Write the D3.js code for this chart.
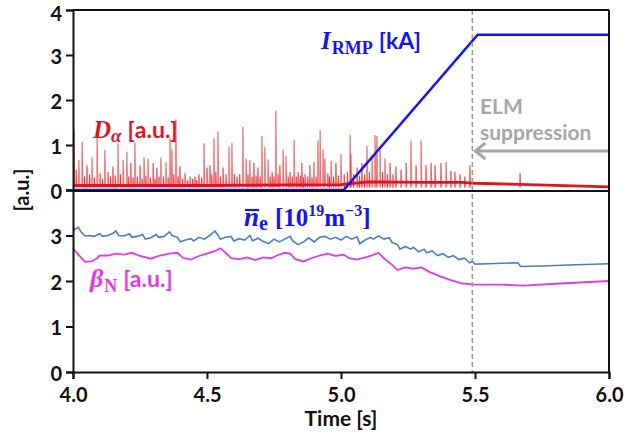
<!DOCTYPE html>
<html>
<head>
<meta charset="utf-8">
<script src="https://cdn.jsdelivr.net/npm/d3@7"></script>
<style>
  html, body { margin: 0; padding: 0; background: #fff; }
  svg { display: block; }
  .tick text { font-family: Lato, "Open Sans", sans-serif; font-weight: 700; font-size: 20px; fill: #111; }
  .serif { font-family: "Liberation Serif", "DejaVu Serif", serif; font-weight: 700; }
  .sans { font-family: Lato, "Open Sans", sans-serif; font-weight: 700; }
</style>
</head>
<body>
<svg id="chart" width="638" height="436"></svg>
<script>
// ---- data ----
// Dα spike times [s] and peak amplitudes [a.u.]
const daSpikeT = [4.004,4.012,4.022,4.034,4.043,4.052,4.062,4.071,4.080,4.090,4.101,4.110,4.119,4.131,4.140,4.149,4.158,4.168,4.177,4.187,4.201,4.208,4.216,4.224,4.231,4.240,4.250,4.258,4.265,4.272,4.280,4.289,4.299,4.306,4.313,4.321,4.328,4.338,4.347,4.355,4.362,4.369,4.376,4.384,4.392,4.399,4.409,4.418,4.428,4.437,4.446,4.455,4.462,4.470,4.480,4.489,4.500,4.511,4.518,4.526,4.533,4.541,4.550,4.560,4.571,4.582,4.593,4.602,4.612,4.622,4.634,4.646,4.653,4.660,4.668,4.675,4.683,4.690,4.698,4.705,4.716,4.728,4.736,4.743,4.750,4.757,4.765,4.772,4.784,4.795,4.803,4.810,4.818,4.825,4.833,4.840,4.848,4.854,4.860,4.866,4.876,4.884,4.892,4.899,4.907,4.914,4.922,4.933,4.940,4.951,4.957,4.963,4.972,4.981,4.990,5.000,5.012,5.024,5.034,5.037,5.047,5.060,5.069,5.078,5.088,5.097,5.106,5.116,5.127,5.134,5.146,5.155,5.164,5.173,5.183,5.194,5.205,5.224,5.243,5.261,5.280,5.299,5.317,5.336,5.351,5.373,5.392,5.410,5.425,5.444,5.462,5.481,5.668];
const daSpikeV = [1.33,0.45,0.67,1.07,0.30,0.55,0.35,0.73,0.28,1.15,0.37,0.25,0.89,0.40,0.30,0.52,0.32,1.04,0.35,0.67,0.85,0.30,0.60,0.28,1.05,0.30,0.55,0.25,0.73,0.32,0.70,0.28,0.60,0.25,0.50,0.30,0.72,0.30,0.62,0.28,1.15,0.90,0.35,1.57,0.30,0.53,0.25,0.37,0.22,0.30,0.25,0.30,0.22,0.35,0.28,1.04,0.50,0.55,0.35,1.15,0.40,1.30,0.30,0.50,0.35,0.96,1.05,0.35,0.30,0.35,1.40,0.70,0.35,0.66,0.30,0.60,0.32,0.50,0.30,1.20,0.95,0.68,0.30,0.40,0.30,1.76,0.35,0.55,0.90,0.75,0.30,0.40,0.30,1.12,0.30,0.40,0.32,0.60,0.28,0.35,0.30,0.55,0.28,0.63,0.30,1.10,1.33,0.90,0.70,0.37,0.30,0.65,0.30,0.60,0.32,0.80,0.35,0.40,1.22,0.80,0.35,0.50,0.32,0.60,0.35,0.98,0.40,0.78,1.22,1.20,0.88,0.40,0.70,0.35,0.60,0.35,0.52,0.45,0.60,1.10,0.55,1.10,0.55,0.60,0.55,0.60,0.62,0.42,0.40,0.35,0.30,0.55,0.38];
// Dα background level between ELMs
const daBaseT = [4.00,4.50,5.00,5.10,5.30,5.45,5.50,5.70,6.00];
const daBaseV = [0.10,0.10,0.12,0.18,0.17,0.17,0.15,0.12,0.07];

// RMP coil current [kA]
const irmpT = [4.00,5.01,5.09,5.51,6.00];
const irmpV = [0.00,0.00,0.55,3.45,3.45];

// line-averaged density [1e19 m^-3]
const neT = [4.00,4.01,4.02,4.03,4.045,4.06,4.08,4.10,4.11,4.13,4.15,4.16,4.17,4.19,4.21,4.22,4.24,4.26,4.27,4.29,4.31,4.32,4.34,4.36,4.37,4.39,4.40,4.42,4.44,4.45,4.47,4.49,4.51,4.53,4.55,4.57,4.59,4.60,4.62,4.64,4.66,4.67,4.69,4.71,4.73,4.75,4.77,4.79,4.81,4.82,4.84,4.86,4.88,4.90,4.92,4.94,4.96,4.98,5.00,5.02,5.04,5.06,5.07,5.09,5.11,5.12,5.14,5.16,5.18,5.19,5.21,5.22,5.24,5.26,5.27,5.29,5.31,5.32,5.34,5.36,5.38,5.40,5.42,5.44,5.46,5.48,5.49,5.50,5.55,5.60,5.66,5.67,5.75,5.85,6.00];
const neV = [3.12,3.15,3.18,3.08,2.99,3.00,2.98,3.04,2.98,3.00,3.05,3.10,3.00,2.99,3.04,2.96,2.98,3.02,2.92,2.95,3.02,2.96,2.98,3.08,3.00,2.96,2.86,2.90,2.93,2.88,2.96,2.92,3.00,3.10,2.92,2.96,2.98,2.88,2.93,2.90,3.00,2.88,2.94,2.87,2.82,2.92,2.86,2.92,2.98,2.88,2.80,2.86,2.95,2.86,2.96,2.98,2.92,2.96,2.90,2.98,2.92,2.97,2.82,2.90,2.96,2.92,2.99,2.92,2.95,2.85,2.80,2.70,2.76,2.70,2.74,2.64,2.70,2.62,2.66,2.56,2.60,2.52,2.56,2.47,2.50,2.40,2.44,2.37,2.38,2.39,2.40,2.32,2.33,2.35,2.38];

// normalised beta [a.u.]
const betaT = [4.00,4.02,4.045,4.07,4.09,4.10,4.13,4.16,4.19,4.22,4.25,4.29,4.32,4.36,4.39,4.41,4.44,4.47,4.50,4.53,4.55,4.57,4.59,4.62,4.65,4.68,4.71,4.74,4.76,4.79,4.81,4.83,4.86,4.89,4.92,4.95,4.98,5.01,5.03,5.06,5.09,5.11,5.14,5.16,5.19,5.21,5.24,5.27,5.30,5.33,5.37,5.41,5.45,5.50,5.60,5.68,5.80,6.00];
const betaV = [2.72,2.58,2.42,2.43,2.50,2.56,2.56,2.60,2.58,2.62,2.55,2.49,2.55,2.60,2.62,2.51,2.47,2.55,2.60,2.66,2.72,2.62,2.50,2.48,2.52,2.46,2.52,2.50,2.56,2.62,2.60,2.48,2.43,2.50,2.56,2.60,2.55,2.58,2.50,2.47,2.52,2.55,2.62,2.50,2.36,2.24,2.30,2.27,2.30,2.20,2.10,2.02,1.95,1.92,1.92,1.90,1.94,2.00];

const xTicks = [4.0,4.5,5.0,5.5,6.0];
const yTopTicks = [0,1,2,3,4];
const yBotTicks = [0,1,2,3];
const elmOnset = 5.49;   // start of ELM suppression [s]

// ---- layout ----
const svg = d3.select("#chart");
const L = 73, R = 609, T = 10, MID = 190, B = 372;

const x = d3.scaleLinear().domain([4, 6]).range([L, R]);
const yTop = d3.scaleLinear().domain([0, 4]).range([MID, T]);
const yBot = d3.scaleLinear().domain([0, 4]).range([B, MID]);

const zip = (a, b) => a.map((v, i) => [v, b[i]]);

// ---- upper panel: Dα and I_RMP ----
const upperG = svg.append("g");
const spikes = upperG.append("g");
daSpikeT.forEach((t, i) => {
  const h = daSpikeV[i];
  // fast rise, slower decay of each ELM burst
  spikes.append("path")
    .attr("d", d3.line()([[x(t - 0.002), yTop(0.08)], [x(t), yTop(h)], [x(t + 0.006), yTop(0.16)], [x(t + 0.006), yTop(0.08)]]))
    .attr("fill", "rgba(225,40,40,0.32)")
    .attr("stroke", "none");
  spikes.append("line")
    .attr("x1", x(t)).attr("x2", x(t))
    .attr("y1", yTop(0.05)).attr("y2", yTop(h))
    .attr("stroke", "#e2262b").attr("stroke-width", 1.1)
    .attr("stroke-opacity", h > 0.6 ? 0.75 : 0.9);
});
upperG.append("path")
  .datum(zip(daBaseT, daBaseV))
  .attr("d", d3.line().x(d => x(d[0])).y(d => yTop(d[1])))
  .attr("fill", "none").attr("stroke", "#e0141c").attr("stroke-width", 2.8);

upperG.append("path")
  .datum(zip(irmpT, irmpV))
  .attr("d", d3.line().x(d => x(d[0])).y(d => yTop(d[1])))
  .attr("fill", "none").attr("stroke", "#1414f0").attr("stroke-width", 2.6);

// ---- lower panel: density and beta ----
const lowerG = svg.append("g");
lowerG.append("path")
  .datum(zip(neT, neV))
  .attr("d", d3.line().x(d => x(d[0])).y(d => yBot(d[1])))
  .attr("fill", "none").attr("stroke", "#4a7fbc").attr("stroke-width", 1.6);
lowerG.append("path")
  .datum(zip(betaT, betaV))
  .attr("d", d3.line().x(d => x(d[0])).y(d => yBot(d[1])))
  .attr("fill", "none").attr("stroke", "#e03be6").attr("stroke-width", 1.8);

// ---- ELM suppression marker ----
svg.append("line")
  .attr("x1", x(elmOnset)).attr("x2", x(elmOnset))
  .attr("y1", T).attr("y2", B)
  .attr("stroke", "#9a9a9a").attr("stroke-width", 1.5)
  .attr("stroke-dasharray", "5,3");

const arrowY = 151;
svg.append("line")
  .attr("x1", R).attr("x2", x(elmOnset) + 3)
  .attr("y1", arrowY).attr("y2", arrowY)
  .attr("stroke", "#a6a6a6").attr("stroke-width", 3);
svg.append("path")
  .attr("d", `M${x(elmOnset) + 13},${arrowY - 8} L${x(elmOnset) + 3},${arrowY} L${x(elmOnset) + 13},${arrowY + 8}`)
  .attr("fill", "none").attr("stroke", "#a6a6a6").attr("stroke-width", 3);

svg.append("text").attr("class", "sans")
  .attr("x", 480).attr("y", 114).attr("font-size", 21).attr("fill", "#a6a6a6")
  .text("ELM");
svg.append("text").attr("class", "sans")
  .attr("x", 480).attr("y", 140).attr("font-size", 21).attr("fill", "#a6a6a6")
  .text("suppression");

// ---- axes ----
const axTop = svg.append("g").attr("transform", `translate(${L},0)`)
  .call(d3.axisLeft(yTop).tickValues(yTopTicks).tickFormat(d3.format("d")).tickSize(7).tickPadding(4));
const axBot = svg.append("g").attr("transform", `translate(${L},0)`)
  .call(d3.axisLeft(yBot).tickValues(yBotTicks).tickFormat(d3.format("d")).tickSize(7).tickPadding(4));
const axX = svg.append("g").attr("transform", `translate(0,${B})`)
  .call(d3.axisBottom(x).tickValues(xTicks).tickFormat(d3.format(".1f")).tickSize(7).tickPadding(6));
[axTop, axBot, axX].forEach(g => {
  g.select(".domain").attr("stroke", "#111").attr("stroke-width", 2);
  g.selectAll(".tick line").attr("stroke", "#111").attr("stroke-width", 2);
});
axTop.selectAll(".tick text").attr("dy", d => d === 4 ? "0.52em" : "0.42em");
axBot.selectAll(".tick text").attr("dy", "0.42em");
axX.selectAll(".tick text").attr("dy", "0.85em");

// frame lines
svg.append("line").attr("x1", L).attr("x2", R).attr("y1", T).attr("y2", T)
  .attr("stroke", "#111").attr("stroke-width", 2);
svg.append("line").attr("x1", R).attr("x2", R).attr("y1", T).attr("y2", B)
  .attr("stroke", "#111").attr("stroke-width", 2);
svg.append("line").attr("x1", L).attr("x2", R).attr("y1", MID + 1).attr("y2", MID + 1)
  .attr("stroke", "#111").attr("stroke-width", 2);

// ---- axis titles ----
svg.append("text").attr("class", "sans")
  .attr("x", 341).attr("y", 426).attr("text-anchor", "middle").attr("font-size", 21).attr("fill", "#111")
  .text("Time [s]");
svg.append("text").attr("class", "sans")
  .attr("transform", "translate(29,190) rotate(-90)")
  .attr("text-anchor", "middle").attr("font-size", 20).attr("fill", "#111")
  .text("[a.u.]");

// ---- series labels ----
const red = "#e0141c", blue = "#1414f0", mag = "#e03be6";

const lD = svg.append("text").attr("x", 93).attr("y", 138).attr("fill", red);
lD.append("tspan").attr("class", "serif").attr("font-style", "italic").attr("font-size", 25).text("D");
lD.append("tspan").attr("class", "serif").attr("font-style", "italic").attr("font-size", 19).attr("dy", 4).text("α");
lD.append("tspan").attr("class", "sans").attr("font-size", 23).attr("dy", -4).attr("dx", 6).text("[a.u.]");

const lI = svg.append("text").attr("x", 321).attr("y", 49).attr("fill", blue);
lI.append("tspan").attr("class", "serif").attr("font-style", "italic").attr("font-size", 25).text("I");
lI.append("tspan").attr("class", "serif").attr("font-size", 18).attr("dy", 5).attr("dx", 1).text("RMP");
lI.append("tspan").attr("class", "sans").attr("font-size", 23).attr("dy", -5).attr("dx", 6).text("[kA]");

const lN = svg.append("text").attr("x", 244).attr("y", 226).attr("fill", blue);
lN.append("tspan").attr("class", "serif").attr("font-style", "italic").attr("font-size", 27).text("n");
lN.append("tspan").attr("class", "serif").attr("font-size", 20).attr("dy", 4).text("e");
lN.append("tspan").attr("class", "serif").attr("font-size", 25).attr("dy", -4).attr("dx", 7).text("[10");
lN.append("tspan").attr("class", "serif").attr("font-size", 16).attr("dy", -10).text("19");
lN.append("tspan").attr("class", "serif").attr("font-size", 25).attr("dy", 10).text("m");
lN.append("tspan").attr("class", "serif").attr("font-size", 16).attr("dy", -10).text("−3");
lN.append("tspan").attr("class", "serif").attr("font-size", 25).attr("dy", 10).text("]");
// bar over n
svg.append("line").attr("x1", 245).attr("x2", 259).attr("y1", 210).attr("y2", 210)
  .attr("stroke", blue).attr("stroke-width", 2.2);

const lB = svg.append("text").attr("x", 90).attr("y", 287).attr("fill", mag);
lB.append("tspan").attr("class", "serif").attr("font-style", "italic").attr("font-size", 26).text("β");
lB.append("tspan").attr("class", "serif").attr("font-size", 18).attr("dy", 5).attr("dx", 1).text("N");
lB.append("tspan").attr("class", "sans").attr("font-size", 23).attr("dy", -5).attr("dx", 6).text("[a.u.]");
</script>
</body>
</html>
